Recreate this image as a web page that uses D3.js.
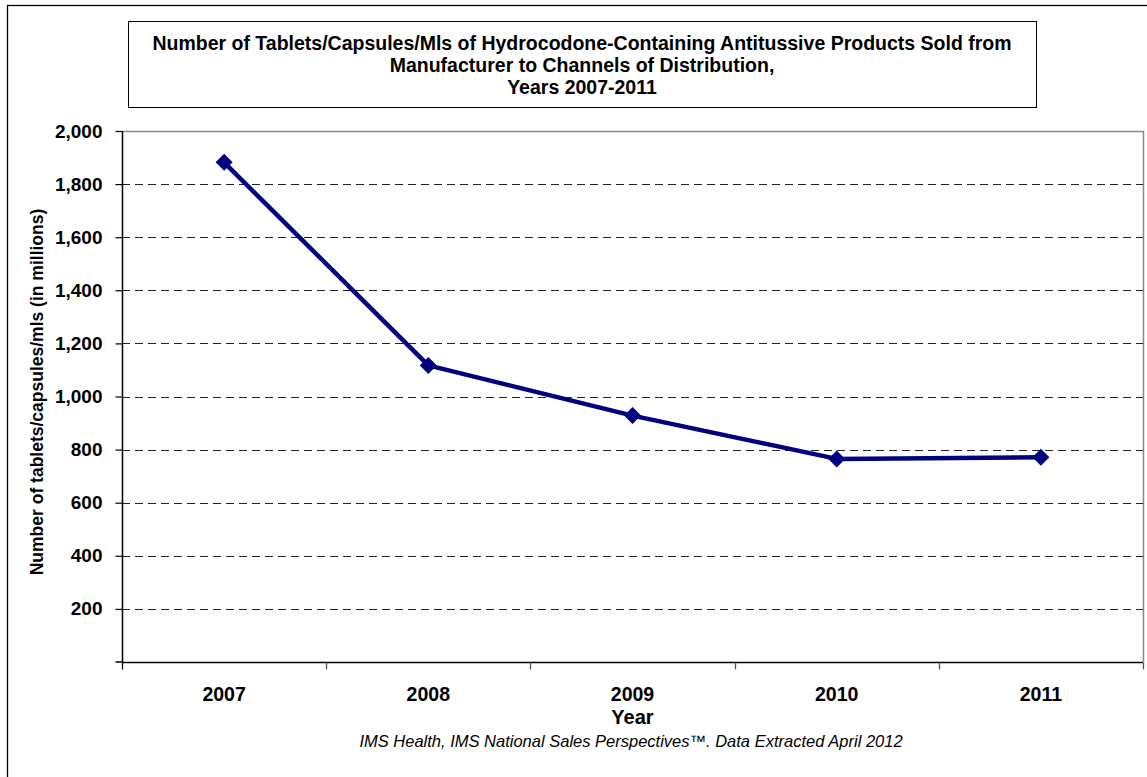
<!DOCTYPE html>
<html>
<head>
<meta charset="utf-8">
<script src="https://cdn.jsdelivr.net/npm/d3@7"></script>
<style>
  html, body { margin: 0; padding: 0; background: #fff; }
  svg { display: block; font-family: Arial, "Liberation Sans", sans-serif; }
</style>
</head>
<body>
<script>
// Hydrocodone antitussive units sold, millions
const years = ["2007", "2008", "2009", "2010", "2011"];
const units = [1882, 1117, 928, 765, 771];
const yTicks = [0, 200, 400, 600, 800, 1000, 1200, 1400, 1600, 1800, 2000];
const titleLines = [
  "Number of Tablets/Capsules/Mls of Hydrocodone-Containing Antitussive Products Sold from",
  "Manufacturer to Channels of Distribution,",
  "Years 2007-2011"
];

const W = 1147, H = 777;
const plot = { left: 122, top: 131, right: 1143, bottom: 662 };

const svg = d3.select("body").append("svg").attr("width", W).attr("height", H);

// outer frame
svg.append("rect")
  .attr("x", 7.5).attr("y", 5.5).attr("width", W + 20).attr("height", H + 20)
  .attr("fill", "none").attr("stroke", "#000").attr("stroke-width", 1.3);

// title box
svg.append("rect")
  .attr("x", 128.5).attr("y", 21.5).attr("width", 908).attr("height", 86)
  .attr("fill", "#fff").attr("stroke", "#000").attr("stroke-width", 1);
svg.append("g").selectAll("text").data(titleLines).join("text")
  .attr("x", 582).attr("y", (d, i) => 50 + i * 22)
  .attr("text-anchor", "middle")
  .attr("font-size", "19.5px").attr("font-weight", "bold")
  .text(d => d);

const x = d3.scaleBand().domain(years).range([plot.left, plot.right]);
const y = d3.scaleLinear().domain([0, 2000]).range([plot.bottom, plot.top]);

// plot area border (grey top/right)
svg.append("path")
  .attr("d", `M${plot.left},${plot.top + 0.5}H${plot.right + 0.5}V${plot.bottom}`)
  .attr("fill", "none").attr("stroke", "#888").attr("stroke-width", 1.5);

// dashed gridlines
svg.append("g").selectAll("line").data(yTicks.filter(v => v > 0 && v < 2000)).join("line")
  .attr("x1", plot.left).attr("x2", plot.right)
  .attr("y1", d => Math.round(y(d)) + 0.5).attr("y2", d => Math.round(y(d)) + 0.5)
  .attr("stroke", "#222").attr("stroke-width", 1)
  .attr("stroke-dasharray", "8,5");

// y axis
const yAxis = d3.axisLeft(y).tickValues(yTicks.filter(v => v > 0))
  .tickSize(7).tickPadding(13).tickFormat(d3.format(","));
const gy = svg.append("g").attr("transform", `translate(${plot.left + 0.5},0)`).call(yAxis);
gy.select(".domain").attr("d", `M-7,${plot.bottom}H0V${plot.top}`).attr("stroke", "#000").attr("stroke-width", 1.5);
gy.selectAll(".tick line").attr("stroke", "#000").attr("stroke-width", 1.2);
gy.selectAll(".tick text").attr("font-size", "19px").attr("font-weight", "bold")
  .attr("font-family", "Arial, 'Liberation Sans', sans-serif").attr("fill", "#000");

// x axis with category boundary ticks
const gx = svg.append("g").attr("transform", `translate(0,${plot.bottom + 0.5})`);
gx.append("line").attr("x1", plot.left).attr("x2", plot.right)
  .attr("stroke", "#000").attr("stroke-width", 1.5);
const bounds = years.map(d => x(d)).concat([x(years[years.length - 1]) + x.bandwidth()]);
gx.selectAll("line.b").data(bounds).join("line").attr("class", "b")
  .attr("x1", d => Math.round(d) + 0.5).attr("x2", d => Math.round(d) + 0.5)
  .attr("y1", 0).attr("y2", 7)
  .attr("stroke", (d, i) => (i === 0 ? "#000" : "#555")).attr("stroke-width", 1.3);
gx.selectAll("text").data(years).join("text")
  .attr("x", d => x(d) + x.bandwidth() / 2).attr("y", 38)
  .attr("text-anchor", "middle").attr("font-size", "19.5px").attr("font-weight", "bold")
  .text(d => d);

// axis titles
svg.append("text")
  .attr("transform", `translate(43,392) rotate(-90)`)
  .attr("text-anchor", "middle").attr("font-size", "17.5px").attr("font-weight", "bold")
  .text("Number of tablets/capsules/mls (in millions)");
svg.append("text")
  .attr("x", (plot.left + plot.right) / 2).attr("y", 724)
  .attr("text-anchor", "middle").attr("font-size", "20px").attr("font-weight", "bold")
  .text("Year");
svg.append("text")
  .attr("x", 631).attr("y", 747)
  .attr("text-anchor", "middle").attr("font-size", "16.5px").attr("font-style", "italic")
  .text("IMS Health, IMS National Sales Perspectives\u2122. Data Extracted April 2012");

// series line and markers
const pts = years.map((d, i) => [x(d) + x.bandwidth() / 2, y(units[i])]);
svg.append("path")
  .attr("d", d3.line()(pts))
  .attr("fill", "none").attr("stroke", "#000080").attr("stroke-width", 4.5)
  .attr("stroke-linejoin", "round");
svg.append("g").selectAll("path").data(pts).join("path")
  .attr("transform", d => `translate(${d[0]},${d[1]})`)
  .attr("d", "M0,-8.5L8.5,0L0,8.5L-8.5,0Z")
  .attr("fill", "#000080");
</script>
</body>
</html>
